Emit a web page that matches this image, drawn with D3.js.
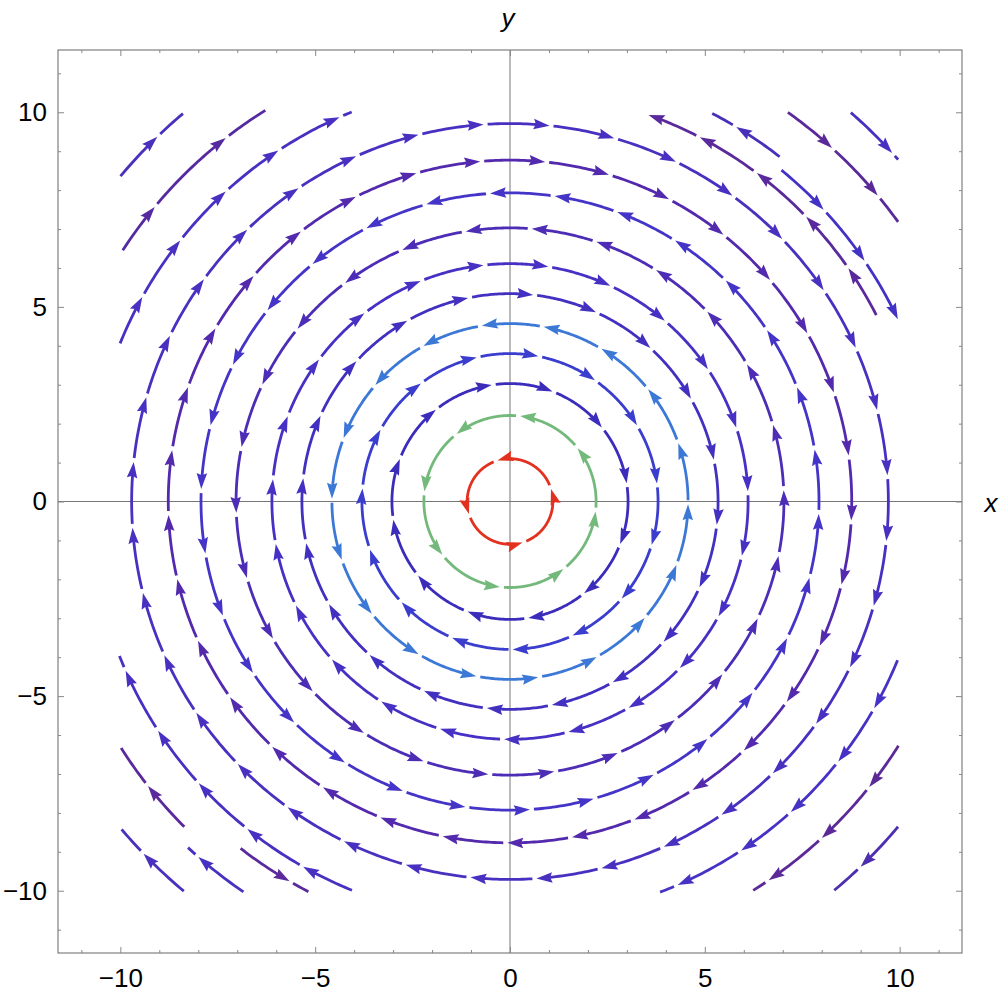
<!DOCTYPE html>
<html>
<head>
<meta charset="utf-8">
<script src="https://cdn.jsdelivr.net/npm/d3@7"></script>
<style>
  body { margin: 0; background: #fff; }
  text { font-family: "Liberation Sans", Arial, sans-serif; }
</style>
</head>
<body>
<script>
// closed stream lines (circles round the origin)
var circleR     = [1.10, 2.21, 3.03, 3.80, 4.57, 5.34, 6.11, 7.03, 7.93, 8.77, 9.71];
var circleDir   = [1, 1, -1, -1, 1, -1, -1, 1, 1, -1, -1];   // 1 = counter clockwise
var circlePhase = [107, 83.3, 98.9, 79, 99.1, 83.6, 96.4, 99.3, 93.7, 95.0, 94.0]; // angle of one arrow tip
var circleArrows = [4, 8, 12, 15, 18, 20, 23, 26, 30, 33, 36];
var circleColor = ["#e2321f", "#74b97c", "#3b2cbc", "#3a3dcd", "#3c78d6", "#4230c0",
                   "#4631c4", "#4d2db6", "#4434c8", "#5329ad", "#4a30c1"];

// open stream lines in the corners (angles in degrees, from -> to along the flow)
var arcR    = [10.80, 11.85, 13.03, 10.55, 11.24, 11.00, 12.28, 13.28, 10.78, 11.82, 13.05, 12.14, 11.28, 10.75, 11.78, 13.00];
var arcFrom = [157.9, 147, 140.1, 27, 52, 50.7, 54.5, 48.8, 247.9, 225, 230.1, 235.7, 232.2, -22.3, -32.2, -40];
var arcTo   = [112.1, 122, 130.1, 70.9, 62.5, 24.8, 35.8, 41.4, 201.6, 212.4, 220.2, 227.1, 242.7, -69, -58, -50.2];
var arcDir  = [-1, -1, -1, 1, 1, -1, -1, -1, -1, -1, -1, -1, 1, -1, -1, -1];
var arcTips = [[150.9, 141.6, 132.5, 123.4, 113.9], [140.3, 128], [134],
               [34.6, 43.9, 53.1, 62.5, 70.3], [58.9], [42.97, 34.2, 25.2], [47.7, 39.8], [42.4],
               [240.5, 231.3, 222.2, 213.1, 203.8], [218.2], [223.9], [228.8], [239.9],
               [-29.6, -38.4, -47.9, -56.5, -66.4], [-38.5, -47.2, -55.7], [-46.2]];
var arcColor = ["#4a30c2", "#55299f", "#4a30bd", "#5a2a9c", "#4a2fb8", "#4232c6", "#5a2a9a", "#4a30c0",
                "#4a30c2", "#5a2a9c", "#4a30bd", "#4632c2", "#5a2a9c", "#4632c4", "#5c2a98", "#4d2eb0"];

var majorTicks = [-10, -5, 0, 5, 10];
var minorTicks = [-11, -9, -8, -7, -6, -4, -3, -2, -1, 1, 2, 3, 4, 6, 7, 8, 9, 11];

var W = 1000, H = 995;
var svg = d3.select("body").append("svg").attr("width", W).attr("height", H);

var x = d3.scaleLinear().domain([-11.6, 11.6]).range([58, 962]);
var y = d3.scaleLinear().domain([-11.6, 11.6]).range([953, 50]);
var pxPerUnit = x(1) - x(0);

// axes through the origin
svg.append("line").attr("x1", x(0)).attr("x2", x(0)).attr("y1", y(11.6)).attr("y2", y(-11.6))
  .attr("stroke", "#777").attr("stroke-width", 1);
svg.append("line").attr("x1", x(-11.6)).attr("x2", x(11.6)).attr("y1", y(0)).attr("y2", y(0))
  .attr("stroke", "#777").attr("stroke-width", 1);

// stream lines
var rad = Math.PI / 180;
var line = d3.line().x(function(d) { return x(d[0]); }).y(function(d) { return y(d[1]); });
var gapPx = 4, headL = 16, headW = 10.5, lineW = 2.8;
var lines = svg.append("g");

function arcPoints(r, a0, a1) {
  var pts = [], n = Math.max(2, Math.ceil(Math.abs(a1 - a0) / 0.5));
  for (var i = 0; i <= n; i++) {
    var a = (a0 + (a1 - a0) * i / n) * rad;
    pts.push([r * Math.cos(a), r * Math.sin(a)]);
  }
  return pts;
}

function arrowHead(r, a, dir, color) {
  var t = a * rad;
  var px = x(r * Math.cos(t)), py = y(r * Math.sin(t));
  var tx = -dir * Math.sin(t), ty = -dir * Math.cos(t);  // tangent in pixels
  var nx = -ty, ny = tx;
  var bx = px - headL * tx, by = py - headL * ty;
  var mx = px - headL * 0.86 * tx, my = py - headL * 0.86 * ty;
  var p = [[px, py], [bx + nx * headW / 2, by + ny * headW / 2], [mx, my], [bx - nx * headW / 2, by - ny * headW / 2]];
  lines.append("path").attr("d", "M" + p.join("L") + "Z").attr("fill", color);
}

function streamLine(r, from, to, dir, tips, color) {
  var gap = gapPx / (r * pxPerUnit) / rad;
  var back = headL * 0.6 / (r * pxPerUnit) / rad;
  var start = from;
  tips.forEach(function(tip) {
    lines.append("path").attr("d", line(arcPoints(r, start, tip - dir * back)))
      .attr("fill", "none").attr("stroke", color).attr("stroke-width", lineW);
    arrowHead(r, tip, dir, color);
    start = tip + dir * gap;
  });
  if ((to - start) * dir > 0.2) {
    lines.append("path").attr("d", line(arcPoints(r, start, to)))
      .attr("fill", "none").attr("stroke", color).attr("stroke-width", lineW);
  }
}

circleR.forEach(function(r, i) {
  var dir = circleDir[i], n = circleArrows[i], ph = circlePhase[i];
  var gap = gapPx / (r * pxPerUnit) / rad;
  var tips = d3.range(1, n + 1).map(function(k) { return ph + dir * k * 360 / n; });
  streamLine(r, ph + dir * gap, ph + dir * 360, dir, tips, circleColor[i]);
});

arcR.forEach(function(r, i) {
  var dir = arcDir[i];
  var tips = arcTips[i].slice().sort(function(a, b) { return dir * (a - b); });
  streamLine(r, arcFrom[i], arcTo[i], dir, tips, arcColor[i]);
});

// frame with inward ticks
svg.append("rect").attr("x", x(-11.6)).attr("y", y(11.6))
  .attr("width", x(11.6) - x(-11.6)).attr("height", y(-11.6) - y(11.6))
  .attr("fill", "none").attr("stroke", "#666").attr("stroke-width", 1);

var fmt = d3.format("d");
function frameAxis(gen, tx, ty, values, size, pad) {
  var g = svg.append("g").attr("transform", "translate(" + tx + "," + ty + ")")
    .call(gen.tickValues(values).tickSize(-size).tickPadding(pad || 0)
      .tickFormat(pad ? fmt : ""));
  g.select(".domain").remove();
  g.selectAll(".tick line").attr("stroke", "#888");
  g.selectAll("text").attr("fill", "#000").style("font-size", "26px")
    .style("font-family", "'Liberation Sans', Arial, sans-serif");
  return g;
}
frameAxis(d3.axisBottom(x), 0, y(-11.6), majorTicks, 6, 16);
frameAxis(d3.axisBottom(x), 0, y(-11.6), minorTicks, 3, 0);
frameAxis(d3.axisLeft(y), x(-11.6), 0, majorTicks, 6, 11);
frameAxis(d3.axisLeft(y), x(-11.6), 0, minorTicks, 3, 0);
frameAxis(d3.axisTop(x), 0, y(11.6), majorTicks, 6, 0);
frameAxis(d3.axisTop(x), 0, y(11.6), minorTicks, 3, 0);
frameAxis(d3.axisRight(y), x(11.6), 0, majorTicks, 6, 0);
frameAxis(d3.axisRight(y), x(11.6), 0, minorTicks, 3, 0);

// axis names
svg.append("text").attr("x", x(0) - 2).attr("y", 27).attr("text-anchor", "middle")
  .style("font-size", "26px").style("font-style", "italic").text("y");
svg.append("text").attr("x", 991).attr("y", y(0) + 10).attr("text-anchor", "middle")
  .style("font-size", "26px").style("font-style", "italic").text("x");
</script>
</body>
</html>
